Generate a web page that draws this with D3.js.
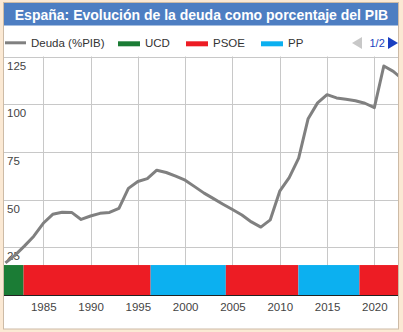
<!DOCTYPE html>
<html>
<head>
<meta charset="utf-8">
<script src="https://cdn.jsdelivr.net/npm/d3@7"></script>
<style>
  html, body { margin: 0; padding: 0; background: #fbe9d4; }
  svg { display: block; font-family: "Liberation Sans", Arial, sans-serif; }
</style>
</head>
<body>
<div id="chart"></div>
<script>
(function() {

    // debt as % of GDP, year-end values
    const years = [1980, 1981, 1982, 1983, 1984, 1985, 1986, 1987, 1988, 1989,
        1990, 1991, 1992, 1993, 1994, 1995, 1996, 1997, 1998, 1999,
        2000, 2001, 2002, 2003, 2004, 2005, 2006, 2007, 2008, 2009,
        2010, 2011, 2012, 2013, 2014, 2015, 2016, 2017, 2018, 2019,
        2020, 2021, 2022];
    const debt = [16.8, 20.8, 25.6, 30.8, 37.6, 42.3, 43.4, 43.3, 39.6, 41.4,
        42.8, 43.3, 45.4, 55.9, 59.5, 61.0, 65.4, 64.2, 62.3, 60.2,
        56.8, 53.4, 50.5, 47.6, 44.8, 41.9, 38.3, 35.6, 39.4, 54.4,
        61.5, 71.7, 92.4, 100.7, 105.0, 103.3, 102.6, 101.8, 100.5, 98.2,
        120.0, 117.2, 113.0];

    // governments
    const parties = ["UCD", "PSOE", "PP"];
    const partyColors = ["#1b7c35", "#ed1c24", "#0cb0f0"];
    const govParty = ["UCD", "PSOE", "PP", "PSOE", "PP", "PSOE"];
    const govStart = [1980.85, 1982.92, 1996.35, 2004.3, 2011.97, 2018.42];
    const govEnd = [1982.92, 1996.35, 2004.3, 2011.97, 2018.42, 2022.5];
    const govBand = 15.7;

    const yTicks = [25, 50, 75, 100, 125];
    const xTicks = [1985, 1990, 1995, 2000, 2005, 2010, 2015, 2020];

    const width = 403;
    const height = 332;
    const margin = {top: 56.5, right: 5, bottom: 37, left: 4};

    const svg = d3.select("#chart").append("svg")
        .attr("width", width)
        .attr("height", height);

    // panel
    svg.append("rect")
        .attr("x", 3.5).attr("y", 2.5)
        .attr("width", 395).attr("height", 326.5)
        .attr("fill", "white")
        .attr("stroke", "#cdbba6");

    svg.append("rect")
        .attr("x", 4).attr("y", 3)
        .attr("width", 394).attr("height", 22.5)
        .attr("fill", "#4d7ec2");

    svg.append("text")
        .attr("x", 201.5).attr("y", 19.5)
        .attr("text-anchor", "middle")
        .attr("fill", "white")
        .attr("font-weight", "bold")
        .attr("font-size", "14px")
        .text("España: Evolución de la deuda como porcentaje del PIB");

    const x = d3.scaleLinear()
        .domain([1980.85, 2022.5])
        .range([margin.left, width - margin.right]);

    const y = d3.scaleLinear()
        .domain([0, 125])
        .range([height - margin.bottom, margin.top]);

    const color = d3.scaleOrdinal().domain(parties).range(partyColors);

    // legend
    const legend = svg.append("g").attr("font-size", "11.5px").attr("fill", "#333");
    legend.append("line")
        .attr("x1", 5).attr("x2", 26).attr("y1", 42.8).attr("y2", 42.8)
        .attr("stroke", "#808080").attr("stroke-width", 3);
    legend.append("text").attr("x", 31).attr("y", 47).text("Deuda (%PIB)");

    const legX = [118, 186, 261];
    parties.forEach((p, i) => {
        legend.append("rect")
            .attr("x", legX[i]).attr("y", 41.3)
            .attr("width", 22).attr("height", 5)
            .attr("fill", color(p));
        legend.append("text").attr("x", legX[i] + 27).attr("y", 47).text(p);
    });

    // pager
    legend.append("path").attr("d", "M352,43 L362,37 L362,49 Z").attr("fill", "#c8c8c8");
    legend.append("text").attr("x", 369.5).attr("y", 47)
        .attr("fill", "#1a3fc0").attr("font-size", "11px").text("1/2");
    legend.append("path").attr("d", "M388,37 L398,43 L388,49 Z").attr("fill", "#1a3fc0");

    // grid
    const grid = svg.append("g").attr("stroke", "#c8c8c8").attr("stroke-width", 1);
    grid.selectAll(".hg")
        .data(yTicks)
        .join("line")
        .attr("x1", margin.left).attr("x2", width - margin.right)
        .attr("y1", d => Math.round(y(d)) + 0.5).attr("y2", d => Math.round(y(d)) + 0.5);
    grid.selectAll(".vg")
        .data(xTicks)
        .join("line")
        .attr("x1", d => Math.round(x(d)) + 0.5).attr("x2", d => Math.round(x(d)) + 0.5)
        .attr("y1", margin.top).attr("y2", height - margin.bottom);

    // government bands
    svg.append("g")
        .selectAll("rect")
        .data(govParty)
        .join("rect")
        .attr("x", (d, i) => x(govStart[i]))
        .attr("width", (d, i) => x(govEnd[i]) - x(govStart[i]))
        .attr("y", y(govBand))
        .attr("height", y(0) - y(govBand))
        .attr("fill", d => color(d));

    // axis
    const xAxis = g => g
        .attr("transform", `translate(0,${height - margin.bottom})`)
        .call(d3.axisBottom(x).tickValues(xTicks).tickFormat(d3.format("d")).tickSize(0).tickPadding(8))
        .attr("font-size", "11.5px")
        .attr("font-family", null)
        .call(g => g.select(".domain").attr("stroke", "#222").attr("d", `M${margin.left},0.5H${width - margin.right}`))
        .call(g => g.selectAll("text").attr("fill", "#444"));
    svg.append("g").call(xAxis);

    // y labels sit under their gridline
    svg.append("g")
        .selectAll("text")
        .data(yTicks)
        .join("text")
        .attr("x", 7)
        .attr("y", d => y(d) + 13)
        .attr("font-size", "11.5px")
        .attr("fill", "#444")
        .text(d => d);

    // debt line, year-end values plotted at the start of the next year
    svg.append("clipPath").attr("id", "plotClip")
        .append("rect")
        .attr("x", margin.left).attr("y", 0)
        .attr("width", width - margin.left - margin.right).attr("height", height);

    const line = d3.line()
        .x((d, i) => x(years[i] + 1))
        .y(d => y(d));

    svg.append("path")
        .datum(debt)
        .attr("clip-path", "url(#plotClip)")
        .attr("fill", "none")
        .attr("stroke", "#808080")
        .attr("stroke-width", 3)
        .attr("stroke-linejoin", "round")
        .attr("d", line);

})();
</script>
</body>
</html>
